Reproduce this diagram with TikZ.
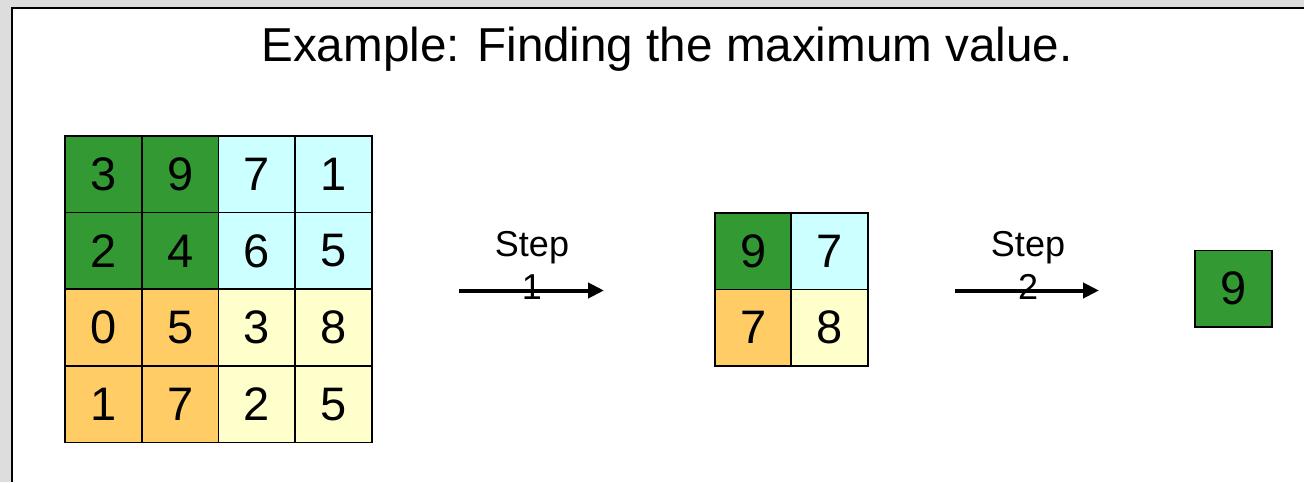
\documentclass[tikz,border=0pt]{standalone}
\usepackage{fontspec}
\setmainfont{Liberation Sans}
\usetikzlibrary{arrows.meta}
\definecolor{bggray}{HTML}{DDDDDD}
\definecolor{cgreen}{HTML}{339933}
\definecolor{ccyan}{HTML}{CCFFFF}
\definecolor{corange}{HTML}{FFCC66}
\definecolor{cyellow}{HTML}{FFFFCC}
\tikzset{
  cell/.style={draw=black, line width=1.6pt, minimum width=76.7pt, minimum height=76.6pt, inner sep=0pt,
    font=\fontsize{47}{56}\selectfont},
  steplabel/.style={align=center, inner sep=0pt, font=\fontsize{36}{43}\selectfont},
  steparrow/.style={line width=4pt, -{Triangle[length=16pt,width=15pt]}},
}
\begin{document}
\begin{tikzpicture}[x=1pt,y=-1pt]
\useasboundingbox (0,0) rectangle (1304,482);
\fill[bggray] (0,0) rectangle (1304,482);
\fill[white] (12,8) rectangle (1304,482);
\draw[line width=2pt] (12,482) -- (12,8) -- (1304,8);
\node[font=\fontsize{47.6}{57}\selectfont, anchor=base] (title) at (667,61) {Example: Finding the maximum value.};
% 4x4 grid
\node[cell, fill=cgreen] (g11) at (103.4,174.3) {3};
\node[cell, fill=cgreen] (g12) at (180.1,174.3) {9};
\node[cell, fill=ccyan] (g13) at (256.9,174.3) {7};
\node[cell, fill=ccyan] (g14) at (333.6,174.3) {1};
\node[cell, fill=cgreen] (g21) at (103.4,250.9) {2};
\node[cell, fill=cgreen] (g22) at (180.1,250.9) {4};
\node[cell, fill=ccyan] (g23) at (256.9,250.9) {6};
\node[cell, fill=ccyan] (g24) at (333.6,250.9) {5};
\node[cell, fill=corange] (g31) at (103.4,327.6) {0};
\node[cell, fill=corange] (g32) at (180.1,327.6) {5};
\node[cell, fill=cyellow] (g33) at (256.9,327.6) {3};
\node[cell, fill=cyellow] (g34) at (333.6,327.6) {8};
\node[cell, fill=corange] (g41) at (103.4,404.3) {1};
\node[cell, fill=corange] (g42) at (180.1,404.3) {7};
\node[cell, fill=cyellow] (g43) at (256.9,404.3) {2};
\node[cell, fill=cyellow] (g44) at (333.6,404.3) {5};
% 2x2 grid
\node[cell, fill=cgreen] (h11) at (753.2,251.2) {9};
\node[cell, fill=ccyan] (h12) at (829.6,251.2) {7};
\node[cell, fill=corange] (h21) at (753.2,327.7) {7};
\node[cell, fill=cyellow] (h22) at (829.6,327.7) {8};
% result
\node[cell, fill=cgreen] (r) at (1233.5,288.6) {9};
% arrows
\coordinate (a1s) at (459,290.5);
\coordinate (a1e) at (604,290.5);
\coordinate (a2s) at (955,290.5);
\coordinate (a2e) at (1099,290.5);
\node[steplabel] (s1) at (532,265.5) {Step\\1};
\node[steplabel] (s2) at (1028,265.5) {Step\\2};
\draw[steparrow] (a1s) -- (a1e);
\draw[steparrow] (a2s) -- (a2e);
\end{tikzpicture}
\end{document}
